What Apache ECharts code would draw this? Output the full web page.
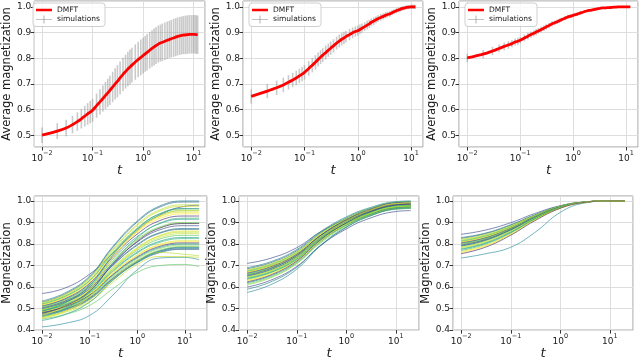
<!DOCTYPE html>
<html>
<head>
<meta charset="utf-8">
<title>Magnetization</title>
<script src="https://cdn.jsdelivr.net/npm/echarts@6/dist/echarts.min.js"></script>
<style>
  body { margin: 0; background: #fff; }
  #main { width: 640px; height: 361px; }
</style>
</head>
<body>
<div id="main"></div>
<script>
// sample times of the simulations / DMFT curves (top row)
var simT = [0.01,0.02,0.03,0.04,0.05,0.06,0.07,0.08,0.09,0.1,
  0.12,0.14,0.16,0.18,0.2,0.22,0.25,0.28,0.31,0.35,
  0.4,0.45,0.5,0.55,0.6,0.7,0.8,0.9,1.0,1.1,
  1.2,1.35,1.5,1.65,1.8,2.0,2.2,2.4,2.7,3.0,
  3.3,3.6,4.0,4.4,4.8,5.3,5.8,6.3,6.9,7.5,
  8.2,9.0,9.8,10.6,11.3,12];

// average magnetization (DMFT ~ simulation mean) and error half-widths
var meanA = [.500,.516,.528,.541,.553,.564,.574,.583,.590,.597,
  .615,.630,.643,.655,.665,.675,.688,.700,.710,.723,
  .737,.748,.758,.766,.773,.785,.795,.803,.810,.817,
  .823,.831,.838,.844,.849,.855,.859,.862,.866,.870,
  .873,.876,.879,.882,.885,.887,.889,.890,.891,.892,
  .893,.893,.893,.893,.892,.892];
var errA = [.030,.031,.032,.034,.036,.038,.040,.042,.044,.045,
  .047,.049,.051,.053,.055,.057,.059,.061,.063,.064,
  .065,.066,.067,.068,.068,.069,.069,.070,.070,.070,
  .071,.071,.071,.072,.072,.072,.072,.073,.073,.073,
  .073,.073,.074,.074,.074,.074,.074,.074,.075,.075,
  .075,.075,.075,.075,.075,.075];

var meanB = [.651,.672,.685,.696,.706,.715,.723,.731,.738,.745,
  .760,.773,.784,.795,.804,.812,.822,.831,.839,.848,
  .859,.867,.874,.879,.884,.892,.899,.904,.907,.912,
  .917,.923,.929,.934,.940,.945,.950,.954,.959,.963,
  .967,.970,.973,.977,.981,.985,.988,.991,.994,.996,
  .998,.999,1.0,1.0,1.0,1.0];
var errB = [.028,.028,.028,.028,.028,.028,.028,.028,.028,.028,
  .028,.028,.028,.027,.027,.027,.027,.026,.026,.026,
  .025,.025,.024,.024,.023,.022,.021,.020,.020,.019,
  .018,.017,.017,.016,.015,.015,.014,.013,.013,.012,
  .012,.011,.011,.010,.010,.010,.009,.009,.009,.008,
  .008,.008,.008,.008,.008,.008];

var meanC = [.801,.816,.828,.838,.846,.852,.857,.863,.866,.870,
  .879,.886,.892,.897,.902,.906,.912,.917,.922,.927,
  .934,.938,.942,.946,.950,.956,.961,.964,.967,.970,
  .972,.976,.979,.982,.984,.986,.987,.989,.991,.993,
  .995,.996,.996,.997,.997,.998,.999,.999,1.0,1.0,
  1.0,1.0,1.0,1.0,1.0,1.0];
var errC = [.016,.016,.016,.015,.015,.015,.014,.014,.014,.013,
  .013,.013,.012,.012,.012,.011,.011,.011,.010,.010,
  .010,.009,.009,.009,.008,.008,.007,.007,.007,.006,
  .006,.006,.005,.005,.005,.005,.004,.004,.004,.004,
  .003,.003,.003,.003,.003,.003,.002,.002,.002,.002,
  .002,.002,.002,.002,.002,.002];

// individual magnetization trajectories (bottom row)
var tBottom = [0.01, 0.03, 0.1, 0.3, 1, 3, 10, 20];

var linesA = [
  [.570,.595,.660,.755,.862,.935,.975,.980],
  [.535,.572,.651,.786,.907,.977,1.0,1.0],
  [.530,.567,.646,.781,.902,.972,.995,.995],
  [.528,.564,.642,.773,.891,.959,.982,.982],
  [.525,.561,.638,.768,.885,.953,.975,.975],
  [.522,.557,.632,.760,.874,.940,.962,.962],
  [.415,.431,.468,.560,.680,.735,.738,.727],
  [.520,.555,.629,.755,.868,.933,.955,.955],
  [.518,.552,.626,.750,.862,.927,.948,.948],
  [.515,.549,.621,.745,.855,.919,.940,.940],
  [.512,.545,.617,.738,.846,.909,.930,.930],
  [.510,.542,.611,.729,.834,.895,.915,.915],
  [.508,.539,.606,.720,.822,.880,.900,.900],
  [.505,.536,.603,.716,.817,.876,.895,.895],
  [.503,.534,.599,.709,.809,.866,.885,.885],
  [.500,.530,.593,.701,.798,.853,.872,.872],
  [.498,.528,.591,.698,.794,.850,.868,.868],
  [.496,.525,.586,.690,.783,.837,.855,.855],
  [.494,.522,.583,.685,.777,.830,.848,.848],
  [.492,.520,.579,.680,.770,.823,.840,.840],
  [.490,.517,.575,.674,.762,.813,.830,.830],
  [.488,.515,.572,.670,.758,.808,.825,.825],
  [.486,.512,.568,.664,.749,.799,.815,.815],
  [.484,.510,.566,.660,.745,.794,.810,.810],
  [.482,.508,.563,.656,.740,.789,.805,.805],
  [.480,.506,.560,.653,.736,.784,.800,.800],
  [.478,.503,.557,.649,.732,.779,.795,.795],
  [.475,.500,.553,.644,.725,.772,.788,.788],
  [.472,.497,.550,.639,.720,.767,.782,.782],
  [.470,.495,.547,.636,.716,.763,.778,.778],
  [.466,.491,.543,.633,.713,.760,.775,.775],
  [.462,.487,.540,.632,.720,.760,.752,.745],
  [.458,.482,.532,.620,.705,.742,.741,.738],
  [.452,.472,.515,.590,.668,.700,.705,.695],
  [.445,.472,.530,.629,.717,.768,.785,.785],
  [.462,.499,.577,.709,.828,.897,.920,.920],
  [.455,.487,.556,.674,.779,.840,.860,.860],
  [.470,.509,.591,.732,.858,.931,.955,.955],
  [.478,.511,.582,.703,.812,.874,.895,.895],
  [.488,.526,.607,.746,.870,.941,.965,.965]
];

var linesB = [
  [.710,.734,.783,.856,.915,.953,.977,.980],
  [.690,.718,.774,.857,.926,.969,.997,1.0],
  [.685,.713,.769,.852,.921,.964,.992,.995],
  [.680,.708,.764,.847,.916,.959,.987,.990],
  [.678,.706,.761,.844,.911,.954,.982,.985],
  [.675,.704,.762,.849,.920,.966,.995,.998],
  [.575,.611,.683,.791,.879,.935,.971,.975],
  [.672,.700,.755,.838,.906,.949,.977,.980],
  [.670,.699,.757,.844,.915,.960,.989,.992],
  [.668,.696,.751,.834,.901,.944,.972,.975],
  [.665,.694,.752,.839,.910,.956,.985,.988],
  [.662,.690,.745,.828,.896,.939,.967,.970],
  [.660,.689,.747,.834,.905,.950,.979,.982],
  [.658,.687,.744,.829,.899,.943,.972,.975],
  [.655,.686,.747,.839,.913,.961,.992,.995],
  [.652,.681,.738,.825,.895,.940,.969,.972],
  [.650,.680,.740,.831,.905,.952,.982,.985],
  [.648,.677,.734,.821,.891,.936,.965,.968],
  [.645,.676,.738,.831,.907,.956,.987,.990],
  [.642,.672,.733,.823,.897,.944,.975,.978],
  [.640,.669,.728,.816,.887,.933,.962,.965],
  [.636,.667,.729,.822,.897,.946,.977,.980],
  [.632,.663,.725,.818,.893,.941,.972,.975],
  [.628,.659,.720,.813,.888,.936,.967,.970],
  [.624,.656,.721,.819,.898,.949,.981,.985],
  [.620,.652,.715,.810,.888,.937,.968,.972],
  [.615,.647,.710,.804,.881,.930,.962,.965],
  [.610,.643,.709,.809,.890,.941,.974,.978],
  [.600,.632,.696,.792,.870,.920,.951,.955],
  [.590,.624,.692,.794,.877,.930,.964,.968]
];

var linesC = [
  [.845,.864,.899,.941,.978,.995,1.0,1.0],
  [.830,.850,.890,.935,.976,.995,1.0,1.0],
  [.826,.847,.887,.934,.976,.995,1.0,1.0],
  [.822,.843,.884,.932,.975,.995,1.0,1.0],
  [.818,.840,.882,.931,.975,.995,1.0,1.0],
  [.815,.837,.880,.930,.974,.994,1.0,1.0],
  [.735,.754,.785,.852,.947,.990,1.0,1.0],
  [.812,.835,.878,.929,.974,.994,1.0,1.0],
  [.810,.833,.877,.928,.973,.994,1.0,1.0],
  [.807,.830,.875,.927,.973,.994,1.0,1.0],
  [.805,.828,.873,.926,.973,.994,1.0,1.0],
  [.802,.826,.871,.925,.972,.994,1.0,1.0],
  [.800,.824,.870,.924,.972,.994,1.0,1.0],
  [.797,.821,.868,.923,.972,.994,1.0,1.0],
  [.795,.820,.867,.922,.971,.994,1.0,1.0],
  [.792,.817,.865,.921,.971,.994,1.0,1.0],
  [.790,.815,.864,.920,.971,.994,1.0,1.0],
  [.786,.812,.861,.919,.970,.994,1.0,1.0],
  [.782,.808,.858,.917,.969,.993,1.0,1.0],
  [.778,.805,.856,.916,.969,.993,1.0,1.0],
  [.775,.802,.854,.915,.969,.993,1.0,1.0],
  [.770,.798,.851,.913,.968,.993,1.0,1.0],
  [.765,.793,.847,.911,.967,.993,1.0,1.0],
  [.760,.789,.844,.909,.966,.993,1.0,1.0],
  [.755,.784,.841,.907,.966,.993,1.0,1.0]
];

// viridis samples, weighted toward the lighter greens/yellows seen in the figure
var viridis = ['#3e4989','#b5de2b','#1f9e89','#fde725','#6ece58',
               '#26828e','#c8e020','#35b779','#482878','#90d743',
               '#31688e','#5ec962','#dde318','#21918c'];

var FONT = 'DejaVu Sans';
var TXT = '#1a1a1a';

var grids = [
  {left: 26,  top: 1,   width: 179, height: 146},
  {left: 243, top: 1,   width: 180, height: 146},
  {left: 459, top: 1,   width: 179, height: 146},
  {left: 26,  top: 196, width: 181, height: 146},
  {left: 239, top: 196, width: 180, height: 146},
  {left: 453, top: 196, width: 180, height: 146}
];
grids.forEach(function (g) {
  g.show = true;
  g.borderColor = '#9a9a9a';
  g.borderWidth = 1;
  g.backgroundColor = '#fff';
});

function logLabel(v) {
  var e = Math.round(Math.log10(v));
  return '{b|10}{s|' + (e < 0 ? '\u2212' : '') + Math.abs(e) + '}';
}

function xAxis(i, lo, hi, gap) {
  return {
    type: 'log', logBase: 10, gridIndex: i,
    min: Math.pow(10, lo), max: Math.pow(10, hi),
    name: 't', nameLocation: 'middle', nameGap: gap,
    nameTextStyle: {fontFamily: FONT, fontStyle: 'italic', fontSize: 13, color: TXT},
    axisLine: {show: false},
    axisTick: {show: true, length: 3.5, lineStyle: {color: '#333'}},
    splitLine: {show: true, lineStyle: {color: '#dedede', width: 1}},
    axisLabel: {
      showMinLabel: false, showMaxLabel: false, margin: 3,
      formatter: logLabel, color: TXT, fontFamily: FONT,
      rich: {
        b: {fontSize: 9, fontFamily: FONT, color: TXT, lineHeight: 13, verticalAlign: 'bottom'},
        s: {fontSize: 6.5, fontFamily: FONT, color: TXT, lineHeight: 6, verticalAlign: 'top'}
      }
    }
  };
}

function yAxis(i, lo, hi, name, gap, showMin) {
  return {
    type: 'value', gridIndex: i, min: lo, max: hi, splitNumber: 6,
    name: name, nameLocation: 'middle', nameGap: gap,
    nameTextStyle: {fontFamily: FONT, fontSize: 11.5, color: TXT},
    axisLine: {show: false},
    axisTick: {show: true, length: 3.5, lineStyle: {color: '#333'}},
    splitLine: {show: true, lineStyle: {color: '#dedede', width: 1}},
    axisLabel: {
      showMinLabel: showMin, showMaxLabel: false, margin: 3,
      fontSize: 9, fontFamily: FONT, color: TXT,
      formatter: function (v) { return v.toFixed(1); }
    }
  };
}

var xAxes = [], yAxes = [];
for (var i = 0; i < 3; i++) {
  xAxes.push(xAxis(i, -2.155, 1.225, 4));
  yAxes.push(yAxis(i, 0.454, 1.023, 'Average magnetization', [8, 13, 13][i], false));
}
for (var i = 3; i < 6; i++) {
  xAxes.push(xAxis(i, -2.165, 1.466, 7));
  yAxes.push(yAxis(i, 0.4, 1.023, 'Magnetization', [12, 13, 14][i - 3], true));
}

function errorBars(i, mean, err) {
  return {
    type: 'custom', name: 'simulations', xAxisIndex: i, yAxisIndex: i,
    itemStyle: {color: '#888'},
    data: simT.map(function (t, k) { return [t, mean[k], err[k]]; }),
    encode: {x: 0, y: 1},
    renderItem: function (params, api) {
      var x = api.value(0), m = api.value(1), e = api.value(2);
      var p1 = api.coord([x, m - e]);
      var p2 = api.coord([x, m + e]);
      return {
        type: 'line',
        shape: {x1: p1[0], y1: p1[1], x2: p2[0], y2: p2[1]},
        style: {stroke: 'rgba(150,150,150,0.5)', lineWidth: 1.6}
      };
    }
  };
}

var series = [];
[[meanA, errA], [meanB, errB], [meanC, errC]].forEach(function (d, i) {
  series.push(errorBars(i, d[0], d[1]));
  series.push({
    type: 'line', name: 'simulations', xAxisIndex: i, yAxisIndex: i,
    showSymbol: false, lineStyle: {color: '#7a7a7a', width: 1},
    itemStyle: {color: '#888'},
    data: simT.map(function (t, k) { return [t, d[0][k]]; })
  });
  series.push({
    type: 'line', name: 'DMFT', xAxisIndex: i, yAxisIndex: i,
    showSymbol: false, smooth: 0.3, lineStyle: {color: '#ff0000', width: 2.8},
    itemStyle: {color: '#ff0000'}, z: 5,
    data: simT.map(function (t, k) { return [t, d[0][k]]; })
  });
});

[linesA, linesB, linesC].forEach(function (set, p) {
  set.forEach(function (vals, j) {
    var c = viridis[(j * 5) % viridis.length];
    if (j === 6) c = '#2a8da0';
    series.push({
      type: 'line', name: 'node', xAxisIndex: p + 3, yAxisIndex: p + 3,
      showSymbol: false, smooth: 0.45,
      lineStyle: {color: c, width: 1, opacity: 0.65},
      data: tBottom.map(function (t, k) { return [t, vals[k]]; })
    });
  });
});

var dmftIcon = 'path://M0,0H20V0.01H0ZM0,3.5H20V6.5H0ZM0,9.99H20V10H0Z';
var simIcon = 'path://M0,4.6H20V5.4H0ZM9.6,0H10.4V10H9.6Z';
var legends = [33, 249, 465].map(function (x) {
  return {
    left: x, top: 3, orient: 'vertical',
    itemWidth: 16, itemHeight: 8, itemGap: 1.5,
    padding: [3, 5, 3, 3],
    borderColor: '#cfcfcf', borderWidth: 1, borderRadius: 3,
    backgroundColor: 'rgba(255,255,255,0.85)',
    textStyle: {fontFamily: FONT, fontSize: 7.5, color: TXT},
    data: [{name: 'DMFT', icon: dmftIcon}, {name: 'simulations', icon: simIcon}]
  };
});

var myChart = echarts.init(document.getElementById('main'));
myChart.setOption({
  animation: false,
  backgroundColor: '#fff',
  grid: grids,
  xAxis: xAxes,
  yAxis: yAxes,
  legend: legends,
  series: series
});
</script>
</body>
</html>
